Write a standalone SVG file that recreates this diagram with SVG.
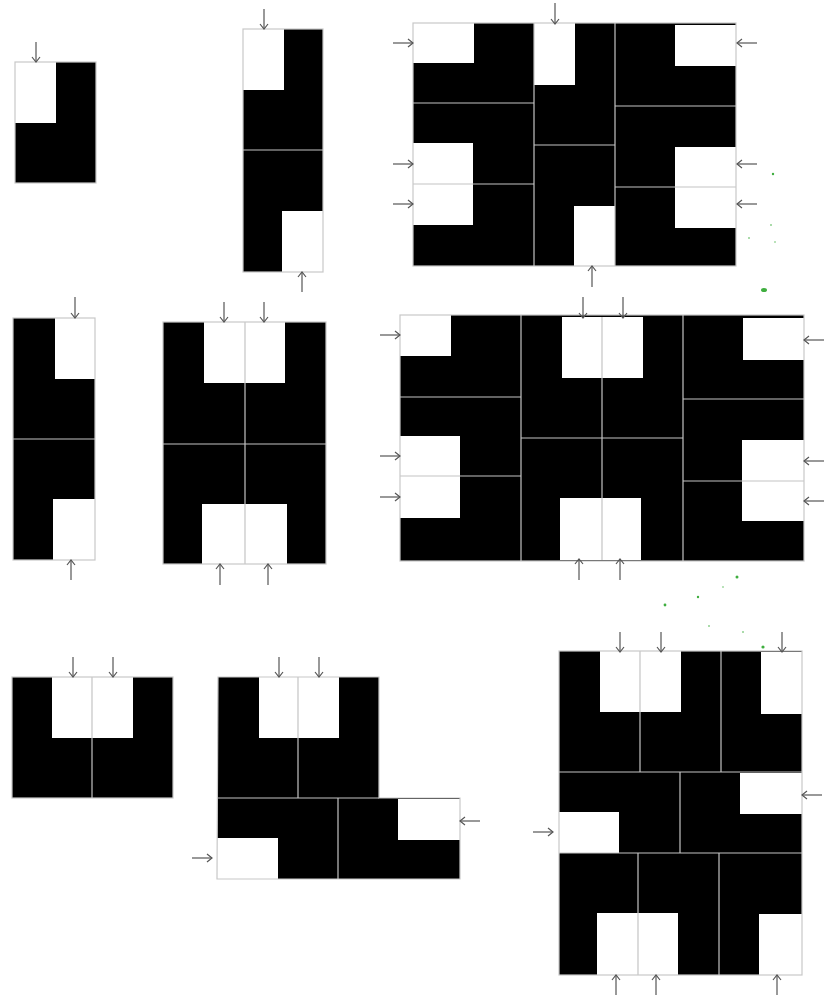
<svg xmlns="http://www.w3.org/2000/svg" width="825" height="995" viewBox="0 0 825 995">
<defs>
<style>
.bg{fill:#fff}
.k{fill:#000}
.w{fill:#fff}
.ol{fill:none;stroke:#c8c8c8;stroke-width:1.2}
.sep{stroke:#c4c4c4;stroke-width:1.2;fill:none}
.arr{stroke:#555;stroke-width:1.2;fill:none;marker-end:url(#ah)}
.spk{fill:#3fae3f}
</style>
<marker id="ah" markerUnits="userSpaceOnUse" markerWidth="8" markerHeight="10" refX="6" refY="5" orient="auto">
<path d="M1,1 L6,5 L1,9" fill="none" stroke="#555" stroke-width="1.2"/>
</marker>
</defs>
<rect class="bg" x="0" y="0" width="825" height="995"/>

<g id="shapeA">
<polygon class="k" points="56,62 96,62 96,183 15,183 15,123 56,123"/>
<rect class="ol" x="15" y="62" width="81" height="121"/>
</g>

<g id="shapeB">
<rect class="k" x="284" y="29" width="39" height="61"/>
<rect class="k" x="243" y="90" width="80" height="121"/>
<rect class="k" x="243" y="211" width="39" height="61"/>
<line class="sep" x1="243" y1="150" x2="323" y2="150"/>
<rect class="ol" x="243" y="29" width="80" height="243"/>
</g>

<g id="shapeC">
<rect class="k" x="413" y="23" width="323" height="243"/>
<rect class="w" x="413" y="23" width="61" height="40"/>
<rect class="w" x="413" y="143" width="60" height="82"/>
<rect class="w" x="534" y="23" width="41" height="62"/>
<rect class="w" x="574" y="206" width="41" height="60"/>
<rect class="w" x="675" y="25" width="61" height="41"/>
<rect class="w" x="675" y="147" width="61" height="81"/>
<line class="sep" x1="534" y1="23" x2="534" y2="266"/>
<line class="sep" x1="615" y1="23" x2="615" y2="266"/>
<line class="sep" x1="413" y1="103" x2="534" y2="103"/>
<line class="sep" x1="413" y1="184" x2="534" y2="184"/>
<line class="sep" x1="534" y1="145" x2="615" y2="145"/>
<line class="sep" x1="615" y1="106" x2="736" y2="106"/>
<line class="sep" x1="615" y1="187" x2="736" y2="187"/>
<rect class="ol" x="413" y="23" width="323" height="243"/>
</g>

<g id="shapeD">
<rect class="k" x="13" y="318" width="82" height="242"/>
<rect class="w" x="55" y="318" width="40" height="61"/>
<rect class="w" x="53" y="499" width="42" height="61"/>
<line class="sep" x1="13" y1="439" x2="95" y2="439"/>
<rect class="ol" x="13" y="318" width="82" height="242"/>
</g>

<g id="shapeE">
<rect class="k" x="163" y="322" width="163" height="242"/>
<rect class="w" x="204" y="322" width="81" height="61"/>
<rect class="w" x="202" y="504" width="85" height="60"/>
<line class="sep" x1="245" y1="322" x2="245" y2="564"/>
<line class="sep" x1="163" y1="444" x2="326" y2="444"/>
<rect class="ol" x="163" y="322" width="163" height="242"/>
</g>

<g id="shapeF">
<rect class="k" x="400" y="315" width="404" height="246"/>
<rect class="w" x="400" y="315" width="51" height="41"/>
<rect class="w" x="400" y="436" width="60" height="82"/>
<rect class="w" x="562" y="317" width="81" height="61"/>
<rect class="w" x="560" y="498" width="81" height="62"/>
<rect class="w" x="743" y="318" width="61" height="42"/>
<rect class="w" x="742" y="440" width="62" height="81"/>
<line class="sep" x1="521" y1="315" x2="521" y2="561"/>
<line class="sep" x1="683" y1="315" x2="683" y2="561"/>
<line class="sep" x1="602" y1="317" x2="602" y2="560"/>
<line class="sep" x1="400" y1="397" x2="521" y2="397"/>
<line class="sep" x1="400" y1="476" x2="521" y2="476"/>
<line class="sep" x1="521" y1="438" x2="683" y2="438"/>
<line class="sep" x1="683" y1="399" x2="804" y2="399"/>
<line class="sep" x1="683" y1="481" x2="804" y2="481"/>
<rect class="ol" x="400" y="315" width="404" height="246"/>
</g>

<g id="shapeG">
<rect class="k" x="12" y="677" width="161" height="121"/>
<rect class="w" x="52" y="677" width="81" height="61"/>
<line class="sep" x1="92" y1="677" x2="92" y2="798"/>
<rect class="ol" x="12" y="677" width="161" height="121"/>
</g>

<g id="shapeH">
<polygon class="k" points="218,677 379,677 379,798 460,798 460,879 217,879"/>
<rect class="w" x="259" y="677" width="80" height="61"/>
<rect class="w" x="398" y="799" width="62" height="41"/>
<rect class="w" x="217" y="838" width="61" height="41"/>
<line class="sep" x1="298" y1="677" x2="298" y2="798"/>
<line class="sep" x1="218" y1="798" x2="379" y2="798"/>
<line class="sep" x1="338" y1="798" x2="338" y2="879"/>
<polygon class="ol" points="218,677 379,677 379,798 460,798 460,879 217,879"/>
</g>

<g id="shapeI">
<rect class="k" x="559" y="651" width="243" height="324"/>
<rect class="w" x="600" y="651" width="81" height="61"/>
<rect class="w" x="761" y="652" width="41" height="62"/>
<rect class="w" x="740" y="773" width="62" height="41"/>
<rect class="w" x="559" y="812" width="60" height="41"/>
<rect class="w" x="597" y="913" width="81" height="62"/>
<rect class="w" x="759" y="914" width="43" height="61"/>
<line class="sep" x1="640" y1="651" x2="640" y2="772"/>
<line class="sep" x1="721" y1="651" x2="721" y2="772"/>
<line class="sep" x1="559" y1="772" x2="802" y2="772"/>
<line class="sep" x1="680" y1="772" x2="680" y2="853"/>
<line class="sep" x1="559" y1="853" x2="802" y2="853"/>
<line class="sep" x1="638" y1="853" x2="638" y2="975"/>
<line class="sep" x1="719" y1="853" x2="719" y2="975"/>
<rect class="ol" x="559" y="651" width="243" height="324"/>
</g>

<g id="connectors">
<line class="arr" x1="36" y1="42" x2="36" y2="62"/>
<line class="arr" x1="264" y1="9" x2="264" y2="29"/>
<line class="arr" x1="302" y1="292" x2="302" y2="272"/>
<line class="arr" x1="393" y1="43" x2="413" y2="43"/>
<line class="arr" x1="393" y1="164" x2="413" y2="164"/>
<line class="arr" x1="393" y1="204" x2="413" y2="204"/>
<line class="arr" x1="757" y1="43" x2="737" y2="43"/>
<line class="arr" x1="757" y1="164" x2="737" y2="164"/>
<line class="arr" x1="757" y1="204" x2="737" y2="204"/>
<line class="arr" x1="555" y1="3" x2="555" y2="24"/>
<line class="arr" x1="592" y1="287" x2="592" y2="266"/>
<line class="arr" x1="75" y1="297" x2="75" y2="318"/>
<line class="arr" x1="71" y1="580" x2="71" y2="560"/>
<line class="arr" x1="224" y1="302" x2="224" y2="322"/>
<line class="arr" x1="264" y1="302" x2="264" y2="322"/>
<line class="arr" x1="220" y1="585" x2="220" y2="564"/>
<line class="arr" x1="268" y1="585" x2="268" y2="564"/>
<line class="arr" x1="380" y1="335" x2="400" y2="335"/>
<line class="arr" x1="380" y1="456" x2="400" y2="456"/>
<line class="arr" x1="380" y1="497" x2="400" y2="497"/>
<line class="arr" x1="824" y1="340" x2="804" y2="340"/>
<line class="arr" x1="824" y1="461" x2="804" y2="461"/>
<line class="arr" x1="824" y1="501" x2="804" y2="501"/>
<line class="arr" x1="583" y1="297" x2="583" y2="318"/>
<line class="arr" x1="623" y1="297" x2="623" y2="318"/>
<line class="arr" x1="579" y1="580" x2="579" y2="559"/>
<line class="arr" x1="620" y1="580" x2="620" y2="559"/>
<line class="arr" x1="73" y1="657" x2="73" y2="677"/>
<line class="arr" x1="113" y1="657" x2="113" y2="677"/>
<line class="arr" x1="279" y1="657" x2="279" y2="677"/>
<line class="arr" x1="319" y1="657" x2="319" y2="677"/>
<line class="arr" x1="480" y1="821" x2="460" y2="821"/>
<line class="arr" x1="192" y1="858" x2="212" y2="858"/>
<line class="arr" x1="620" y1="632" x2="620" y2="652"/>
<line class="arr" x1="661" y1="632" x2="661" y2="652"/>
<line class="arr" x1="782" y1="632" x2="782" y2="652"/>
<line class="arr" x1="822" y1="795" x2="802" y2="795"/>
<line class="arr" x1="533" y1="832" x2="553" y2="832"/>
<line class="arr" x1="616" y1="996" x2="616" y2="975"/>
<line class="arr" x1="656" y1="996" x2="656" y2="975"/>
<line class="arr" x1="777" y1="996" x2="777" y2="975"/>
</g>

<g id="specks">
<circle class="spk" cx="773" cy="174" r="1.2"/>
<circle class="spk" cx="771" cy="225" r="0.8"/>
<circle class="spk" cx="749" cy="238" r="0.8"/>
<circle class="spk" cx="775" cy="242" r="0.7"/>
<ellipse class="spk" cx="764" cy="290" rx="3" ry="2"/>
<circle class="spk" cx="737" cy="577" r="1.5"/>
<circle class="spk" cx="698" cy="597" r="1.2"/>
<circle class="spk" cx="665" cy="605" r="1.4"/>
<circle class="spk" cx="709" cy="626" r="0.8"/>
<circle class="spk" cx="743" cy="632" r="0.8"/>
<circle class="spk" cx="763" cy="647" r="1.6"/>
<circle class="spk" cx="723" cy="587" r="0.7"/>
</g>
</svg>
